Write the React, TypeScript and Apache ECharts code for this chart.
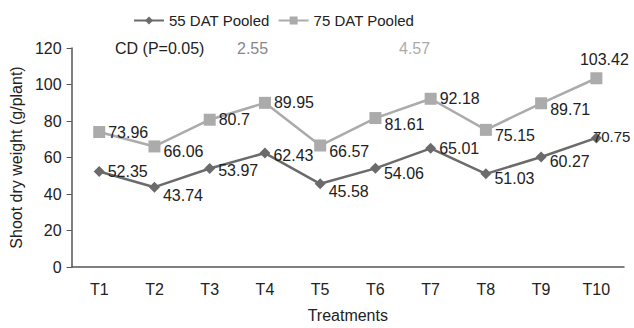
import React, { useEffect, useRef } from "react";
import * as echarts from "echarts";

const categories = ["T1", "T2", "T3", "T4", "T5", "T6", "T7", "T8", "T9", "T10"];
const dat55 = [52.35, 43.74, 53.97, 62.43, 45.58, 54.06, 65.01, 51.03, 60.27, 70.75];
const dat75 = [73.96, 66.06, 80.7, 89.95, 66.57, 81.61, 92.18, 75.15, 89.71, 103.42];
const yTicks = [0, 20, 40, 60, 80, 100, 120];
const cdLabel = "CD (P=0.05)";
const cd55 = "2.55";
const cd75 = "4.57";

const FONT = "'Liberation Sans Narrow', 'Arial Narrow', 'Liberation Sans', Arial, sans-serif";
const DARK = "#6b6b6b";
const LIGHT = "#ababab";
const TEXT = "#222";

// label vertical offsets (style only)
const off55 = [0, 8, 2, 2, 8, 5, 0, 5, 4, 0];
const off75 = [0, 5, 0, 0, 6, 6, 0, 6, 6, 0];

export default function App() {
  const ref = useRef<HTMLDivElement>(null);
  useEffect(() => {
    if (!ref.current) return;
    const chart = echarts.init(ref.current, undefined, { renderer: "svg" });
    const lbl = { show: true, position: "right", distance: 3, color: TEXT, fontSize: 16, fontFamily: FONT };
    const last = dat55.length - 1;
    chart.setOption({
      animation: false,
      textStyle: { fontFamily: FONT },
      legend: {
        top: 8,
        left: 128,
        itemWidth: 30,
        itemHeight: 10,
        itemGap: 8,
        textStyle: { fontSize: 15, color: TEXT, fontFamily: FONT },
        data: ["55 DAT Pooled", "75 DAT Pooled"],
      },
      grid: { left: 70, right: 10, top: 48, bottom: 60 },
      xAxis: {
        type: "category",
        data: categories,
        name: "Treatments",
        nameLocation: "middle",
        nameGap: 40,
        nameTextStyle: { fontSize: 16, color: TEXT, fontFamily: FONT },
        axisLine: { lineStyle: { color: "#555", width: 1.5 } },
        axisTick: { show: false },
        axisLabel: { fontSize: 16, color: TEXT, margin: 14, fontFamily: FONT },
      },
      yAxis: {
        type: "value",
        min: yTicks[0],
        max: yTicks[yTicks.length - 1],
        interval: 20,
        name: "Shoot dry weight (g/plant)",
        nameLocation: "middle",
        nameGap: 45,
        nameTextStyle: { fontSize: 16, color: TEXT, fontFamily: FONT },
        axisLine: { show: true, lineStyle: { color: "#555", width: 1.5 } },
        axisTick: { show: true, length: 5, lineStyle: { color: "#555" } },
        splitLine: { show: false },
        axisLabel: { fontSize: 16, color: TEXT, margin: 10, fontFamily: FONT },
      },
      graphic: [
        { type: "text", left: 115, top: 40, style: { text: cdLabel, fontSize: 16, fill: TEXT, fontFamily: FONT } },
        { type: "text", left: 237, top: 40, style: { text: cd55, fontSize: 16, fill: "#888", fontFamily: FONT } },
        { type: "text", left: 399, top: 40, style: { text: cd75, fontSize: 16, fill: LIGHT, fontFamily: FONT } },
      ],
      series: [
        {
          name: "55 DAT Pooled",
          type: "line",
          symbol: "diamond",
          symbolSize: 11,
          lineStyle: { color: DARK, width: 2.5 },
          itemStyle: { color: DARK },
          z: 3,
          data: dat55.map((v, i) =>
            i === last
              ? { value: v, label: { ...lbl, fontSize: 15, distance: 0, offset: [-9, -1] } }
              : { value: v, label: { ...lbl, offset: [0, off55[i]] } }
          ),
        },
        {
          name: "75 DAT Pooled",
          type: "line",
          symbol: "rect",
          symbolSize: 12,
          lineStyle: { color: LIGHT, width: 2.5 },
          itemStyle: { color: LIGHT },
          z: 2,
          data: dat75.map((v, i) =>
            i === last
              ? { value: v, label: { ...lbl, position: "top", distance: 5, offset: [8, 0] } }
              : { value: v, label: { ...lbl, offset: [0, off75[i]] } }
          ),
        },
      ],
    });
    return () => chart.dispose();
  }, []);
  return <div ref={ref} style={{ width: 634, height: 328, position: "absolute", left: 0, top: 0 }} />;
}
